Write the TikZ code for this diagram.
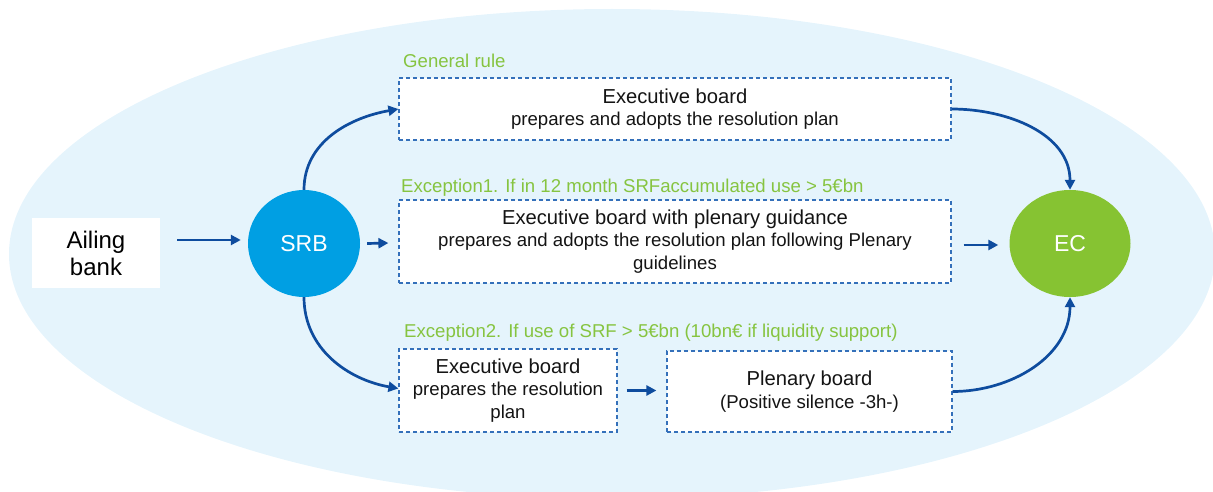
\documentclass[tikz,border=0pt]{standalone}
\usepackage{fontspec}
\setmainfont{Liberation Sans}
\usetikzlibrary{arrows.meta,shapes.geometric,calc}
\definecolor{bgblue}{HTML}{E5F4FC}
\definecolor{srbblue}{HTML}{009FE3}
\definecolor{ecgreen}{HTML}{86C332}
\definecolor{arrblue}{HTML}{0E4C9E}
\definecolor{dashblue}{HTML}{3470BA}
\definecolor{lblgreen}{HTML}{86C440}
\tikzset{
  arr/.style={draw=arrblue, line width=2.7pt, -{Triangle[length=10pt,width=10pt]}},
  dbox/.style={draw=dashblue, line width=1.2pt, dash pattern=on 4pt off 3pt, fill=white,
    rectangle, inner sep=0pt, align=center, text=black!92,
    font=\fontsize{18.6}{22.5}\selectfont},
  lbl/.style={anchor=base west, inner sep=0pt, text=lblgreen, font=\fontsize{18.6}{22}\selectfont},
  circ/.style={ellipse, inner sep=0pt, text=white, font=\fontsize{23}{26}\selectfont}
}
\begin{document}
\begin{tikzpicture}[x=1pt,y=1pt]
\useasboundingbox (0,0) rectangle (1213,-492);
\begin{scope}
\clip (0,0) rectangle (1213,-492);
\fill[bgblue] (612,-254) ellipse [x radius=603, y radius=245];
\end{scope}

\node[fill=white, minimum width=128pt, minimum height=70pt, inner sep=0pt, align=center,
  font=\fontsize{24}{27}\selectfont] (bank) at (96,-253) {Ailing\\bank};
\node[circ, fill=srbblue, minimum width=112pt, minimum height=107pt] (srb) at (304,-243.5) {SRB};
\node[circ, fill=ecgreen, minimum width=121pt, minimum height=107pt] (ec) at (1070,-243.5) {EC};

\node[dbox, minimum width=552pt, minimum height=62pt] (b1) at (675,-109)
  {{\fontsize{20.2}{22.5}\selectfont Executive board}\\prepares and adopts the resolution plan};
\node[dbox, minimum width=552pt, minimum height=83pt] (b2) at (675,-241.5)
  {{\fontsize{20.2}{22.5}\selectfont Executive board with plenary guidance}\\prepares and adopts the resolution plan following Plenary\\guidelines};
\node[dbox, minimum width=218pt, minimum height=83pt] (b3) at (508,-390.5)
  {{\fontsize{20.2}{22.5}\selectfont Executive board}\\prepares the resolution\\plan};
\node[dbox, minimum width=285pt, minimum height=81pt] (b4) at (809.5,-391.5)
  {{\fontsize{20.2}{22.5}\selectfont Plenary board}\\(Positive silence -3h-)};

\node[lbl] (l1) at (403,-68) {General rule};
\node[lbl] (l2) at (401,-192) {Exception1. If in 12 month SRFaccumulated use > 5€bn};
\node[lbl] (l3) at (404,-337) {Exception2. If use of SRF > 5€bn (10bn€ if liquidity support)};

\draw[arr] ($(bank.east)+(17,13)$) -- ($(srb.west)+(-7,3.5)$);
\draw[arr] ($(srb.east)+(7,0)$) -- ($(b2.west)+(-10,-1.5)$);
\draw[arr] ($(b2.east)+(12,-3.5)$) -- ($(ec.west)+(-11,-1.5)$);
\draw[arr] ($(b3.east)+(9,0)$) -- ($(b4.west)+(-10,1)$);
\draw[arr] (srb.north) to[out=90,in=190] (b1.west);
\draw[arr] (srb.south) to[out=-90,in=170] ($(b3.west)+(0,2)$);
\draw[arr] (b1.east) to[out=0,in=90] (ec.north);
\draw[arr] (b4.east) to[out=0,in=-90] (ec.south);
\end{tikzpicture}
\end{document}
